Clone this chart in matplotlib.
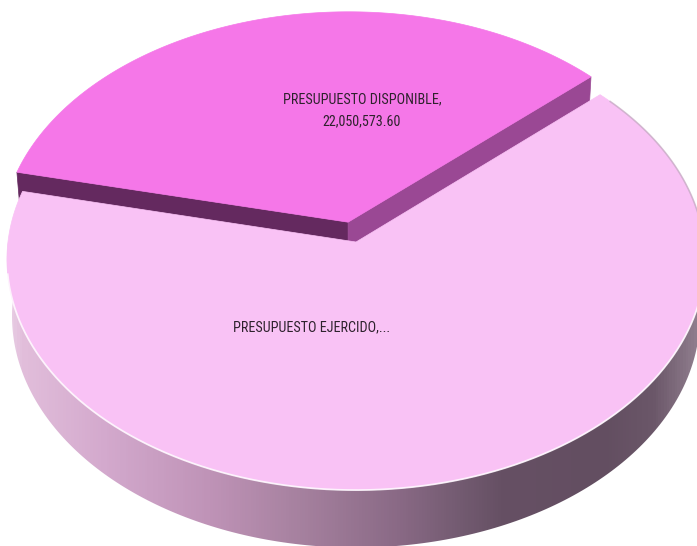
import numpy as np
import matplotlib.pyplot as plt
from matplotlib import font_manager
from matplotlib.patches import Polygon
from matplotlib.colors import LinearSegmentedColormap

# datos del grafico
categorias = ['PRESUPUESTO EJERCIDO', 'PRESUPUESTO DISPONIBLE']
valores = [41700000.00, 22050573.60]
etiquetas = ['PRESUPUESTO EJERCIDO,...', 'PRESUPUESTO DISPONIBLE,\n22,050,573.60']

# estilo
color_top = ['#F9C2F5', '#F577E8']
color_cara_ini = ['#64295F', '#64295F']   # cara radial del angulo inicial
color_cara_fin = ['#9A4894', '#9A4894']   # cara radial del angulo final
explode = [0.0, 0.09]
inicio = 42.5  # grados, las rebanadas van en sentido horario
pos_etiquetas = [(312, 327), (362, 110)]

# camara (vista 3D con perspectiva)
elev = np.radians(41.2)
dist = 9.91
grosor = 0.22
k = 3449
cx, cy = 356, 242
W, H = 697, 546

def proyectar(X, Y, Z):
    yc = Y * np.cos(elev) - Z * np.sin(elev)
    zc = Y * np.sin(elev) + Z * np.cos(elev)
    d = dist - zc
    return cx + k * X / d, cy - k * yc / d

def borde(t, off, Y):
    X = np.cos(t) + off[0]
    Z = -np.sin(t) + off[1]
    return np.column_stack(proyectar(X, np.full_like(t, Y), Z))

def centro(off, Y):
    x, y = proyectar(off[0], Y, off[1])
    return np.array([[x, y]])

camara = np.array([0, dist * np.sin(elev), dist * np.cos(elev)])

cmap_pared = LinearSegmentedColormap.from_list('pared', [
    (0.00, '#EDD8EA'), (0.03, '#E2BEDB'), (0.15, '#D3A9CD'), (0.30, '#BF93B7'),
    (0.43, '#A6819F'), (0.57, '#8A6A86'), (0.66, '#735B71'), (0.72, '#665064'),
    (0.87, '#634E61'), (0.94, '#6B5769'), (1.00, '#8E7C8C')])

# fuente estrecha parecida a Calibri, si hay alguna
fuentes = font_manager.fontManager.ttflist
nombres = {f.name for f in fuentes}
fuente = dict(family=['DejaVu Sans'], fontsize=8.2)
if 'Liberation Sans Narrow' in nombres:
    fuente = dict(family=['Liberation Sans Narrow'], fontsize=9.8)
elif 'Roboto Condensed' in nombres:
    fuente = dict(family=['Roboto Condensed'], fontsize=10.2)
elif any(f.name == 'DejaVu Sans' and f.stretch == 'condensed' for f in fuentes):
    fuente = dict(family=['DejaVu Sans'], fontstretch='condensed', fontsize=9.0)

fig = plt.figure(figsize=(W / 100, H / 100), dpi=100)
ax = fig.add_axes([0, 0, 1, 1])
ax.set_xlim(0, W)
ax.set_ylim(H, 0)
ax.axis('off')

frac = np.array(valores) / sum(valores)
acum = np.concatenate([[0], np.cumsum(frac)])
rebanadas = []
for i in range(len(valores)):
    a0 = np.radians(inicio - acum[i] * 360)
    a1 = np.radians(inicio - acum[i + 1] * 360)
    mid = (a0 + a1) / 2
    off = (explode[i] * np.cos(mid), -explode[i] * np.sin(mid))
    rebanadas.append((i, a0, a1, mid, off))

# primero las rebanadas mas lejanas
rebanadas.sort(key=lambda r: -np.sin(r[3]))

z = 1
for i, a0, a1, mid, off in rebanadas:
    # pared exterior visible (mitad frontal)
    for base in (-np.pi, np.pi, -3 * np.pi):
        lo, hi = max(a1, base), min(a0, base + np.pi)
        if hi - lo > 1e-3:
            t = np.linspace(lo, hi, 200)
            arriba = borde(t, off, 0)
            abajo = borde(t[::-1], off, -grosor)
            pared = Polygon(np.vstack([arriba, abajo]), closed=True,
                            fc='none', ec='none', zorder=z)
            ax.add_patch(pared)
            im = ax.imshow(np.linspace(0, 1, W)[None, :], cmap=cmap_pared,
                           extent=[0, W, H, 0], aspect='auto', zorder=z)
            im.set_clip_path(pared)
            z += 1
    # caras radiales
    P = np.array([off[0], 0, off[1]])
    for a, n, col in ((a0, np.array([-np.sin(a0), 0, -np.cos(a0)]), color_cara_ini[i]),
                      (a1, np.array([np.sin(a1), 0, np.cos(a1)]), color_cara_fin[i])):
        if np.dot(camara - P, n) > 0:
            t = np.array([a])
            cara = np.vstack([centro(off, 0), borde(t, off, 0),
                              borde(t, off, -grosor), centro(off, -grosor)])
            ax.add_patch(Polygon(cara, closed=True, fc=col, ec=col, lw=0.5, zorder=z))
            z += 1
    # superficie superior
    t = np.linspace(a1, a0, 400)
    tapa = np.vstack([centro(off, 0), borde(t, off, 0)])
    ax.add_patch(Polygon(tapa, closed=True, fc=color_top[i], ec=color_top[i],
                         lw=0.5, zorder=z))
    z += 1
    # brillo del borde frontal
    if explode[i] == 0:
        tb = np.radians(np.linspace(-172, -8, 200))
        b = borde(tb, off, 0)
        ax.plot(b[:, 0], b[:, 1], color='white', lw=1.3, alpha=0.8, zorder=z)
        tr = np.radians(np.linspace(-10, 40, 100))
        b = borde(tr, off, 0)
        ax.plot(b[:, 0], b[:, 1], color='#B8A4B6', lw=1.2, alpha=0.6, zorder=z)
        z += 1

for (x, y), txt in zip(pos_etiquetas, etiquetas):
    ax.text(x, y, txt, ha='center', va='center', color='#2E222D',
            linespacing=1.75, zorder=z, **fuente)

fig.savefig('out.png', dpi=100)
